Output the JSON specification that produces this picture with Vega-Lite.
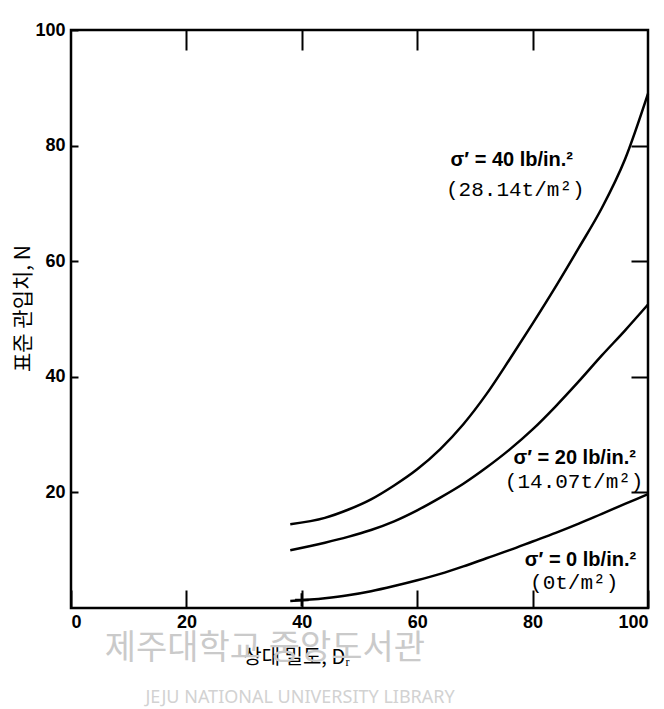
{
  "$schema": "https://vega.github.io/schema/vega-lite/v6.json",
  "width": 577,
  "height": 578,
  "autosize": "none",
  "padding": {"left": 71, "top": 30, "right": 16, "bottom": 101},
  "background": "white",
  "config": {
    "view": {"stroke": "black", "strokeWidth": 2.5},
    "axis": {
      "grid": false,
      "domain": false,
      "tickColor": "black",
      "tickWidth": 2,
      "labelColor": "black",
      "labelFont": "Liberation Sans",
      "labelFontWeight": "bold",
      "labelFontSize": 18,
      "titleFont": "Noto Sans CJK KR",
      "titleFontWeight": "normal",
      "titleFontSize": 20,
      "titleColor": "black"
    }
  },
  "datasets": {
    "curves": [
      {"series": "40", "D": 38, "N": 14.5},
      {"series": "40", "D": 44, "N": 15.6},
      {"series": "40", "D": 48, "N": 17},
      {"series": "40", "D": 52, "N": 18.8},
      {"series": "40", "D": 56, "N": 21.2},
      {"series": "40", "D": 60, "N": 24},
      {"series": "40", "D": 64, "N": 27.5},
      {"series": "40", "D": 68, "N": 31.8},
      {"series": "40", "D": 72, "N": 37},
      {"series": "40", "D": 76, "N": 43},
      {"series": "40", "D": 80, "N": 49.2},
      {"series": "40", "D": 84, "N": 55.6},
      {"series": "40", "D": 88, "N": 62.3},
      {"series": "40", "D": 92, "N": 69.2},
      {"series": "40", "D": 96, "N": 77.6},
      {"series": "40", "D": 100, "N": 89},
      {"series": "20", "D": 38, "N": 10},
      {"series": "20", "D": 44, "N": 11.3},
      {"series": "20", "D": 48, "N": 12.3},
      {"series": "20", "D": 52, "N": 13.5},
      {"series": "20", "D": 56, "N": 15},
      {"series": "20", "D": 60, "N": 16.9},
      {"series": "20", "D": 64, "N": 19.1},
      {"series": "20", "D": 68, "N": 21.5},
      {"series": "20", "D": 72, "N": 24.3},
      {"series": "20", "D": 76, "N": 27.4},
      {"series": "20", "D": 80, "N": 30.9},
      {"series": "20", "D": 84, "N": 34.9},
      {"series": "20", "D": 88, "N": 39.2},
      {"series": "20", "D": 92, "N": 43.7},
      {"series": "20", "D": 96, "N": 48},
      {"series": "20", "D": 100, "N": 52.5},
      {"series": "0", "D": 38, "N": 1.2},
      {"series": "0", "D": 44, "N": 1.7},
      {"series": "0", "D": 48, "N": 2.2},
      {"series": "0", "D": 52, "N": 2.9},
      {"series": "0", "D": 56, "N": 3.8},
      {"series": "0", "D": 60, "N": 4.8},
      {"series": "0", "D": 64, "N": 5.9},
      {"series": "0", "D": 68, "N": 7.2},
      {"series": "0", "D": 72, "N": 8.6},
      {"series": "0", "D": 76, "N": 10},
      {"series": "0", "D": 80, "N": 11.5},
      {"series": "0", "D": 84, "N": 13},
      {"series": "0", "D": 88, "N": 14.6},
      {"series": "0", "D": 92, "N": 16.3},
      {"series": "0", "D": 96, "N": 18},
      {"series": "0", "D": 100, "N": 19.7}
    ],
    "marker": [{"D": 40, "N": 1.4}],
    "labels": [
      {"kind": "main", "D": 76.4, "N": 77.5, "text": "σ′ = 40 lb/in.²"},
      {"kind": "sub", "D": 77, "N": 72.3, "text": "(28.14t/m²)"},
      {"kind": "main", "D": 87.3, "N": 25.9, "text": "σ′ = 20 lb/in.²"},
      {"kind": "sub", "D": 87.2, "N": 21.8, "text": "(14.07t/m²)"},
      {"kind": "main", "D": 88.3, "N": 8.3, "text": "σ′ = 0 lb/in.²"},
      {"kind": "sub", "D": 87.2, "N": 4.3, "text": "(0t/m²)"}
    ],
    "watermark": [
      {"kind": "ko", "D": 33.6, "N": -7.1, "text": "제주대학교 중앙도서관"},
      {"kind": "en", "D": 39.7, "N": -15.6, "text": "JEJU NATIONAL UNIVERSITY LIBRARY"}
    ]
  },
  "resolve": {"axis": {"x": "independent", "y": "independent"}},
  "layer": [
    {
      "data": {"name": "watermark"},
      "transform": [{"filter": "datum.kind === 'ko'"}],
      "mark": {"type": "text", "font": "Noto Sans CJK KR", "fontSize": 34, "color": "#cacaca", "align": "center", "baseline": "middle"},
      "encoding": {
        "x": {"field": "D", "type": "quantitative", "scale": {"domain": [0, 100], "nice": false}, "axis": null},
        "y": {"field": "N", "type": "quantitative", "scale": {"domain": [0, 100], "nice": false}, "axis": null},
        "text": {"field": "text"}
      }
    },
    {
      "data": {"name": "watermark"},
      "transform": [{"filter": "datum.kind === 'en'"}],
      "mark": {"type": "text", "font": "Noto Sans", "fontSize": 18, "color": "#d2d2d2", "align": "center", "baseline": "middle"},
      "encoding": {
        "x": {"field": "D", "type": "quantitative", "scale": {"domain": [0, 100], "nice": false}, "axis": null},
        "y": {"field": "N", "type": "quantitative", "scale": {"domain": [0, 100], "nice": false}, "axis": null},
        "text": {"field": "text"}
      }
    },
    {
      "data": {"name": "curves"},
      "mark": {"type": "line", "interpolate": "monotone", "color": "black", "strokeWidth": 2.5},
      "encoding": {
        "x": {
          "field": "D", "type": "quantitative",
          "scale": {"domain": [0, 100], "nice": false},
          "axis": {
            "orient": "bottom", "values": [0, 20, 40, 60, 80, 100],
            "ticks": true, "tickSize": -18, "labelPadding": 23,
            "title": "상대 밀도, Dᵣ", "titleX": 225, "titleY": 49,
            "titleAlign": "center", "titleBaseline": "middle"
          }
        },
        "y": {
          "field": "N", "type": "quantitative",
          "scale": {"domain": [0, 100], "nice": false},
          "axis": {
            "orient": "left", "values": [20, 40, 60, 80, 100],
            "ticks": true, "tickSize": -7, "labelPadding": 13,
            "title": "표준 관입치,  N", "titleFontSize": 21, "titleX": -48, "titleY": 278,
            "titleAngle": -90, "titleAlign": "center", "titleBaseline": "middle"
          }
        },
        "detail": {"field": "series"}
      }
    },
    {
      "data": {"name": "marker"},
      "mark": {"type": "point", "shape": "M-1,0H1M0,-1V1", "filled": false, "color": "black", "strokeWidth": 2.5, "size": 180, "opacity": 1},
      "encoding": {
        "x": {"field": "D", "type": "quantitative", "scale": {"domain": [0, 100], "nice": false}, "axis": null},
        "y": {"field": "N", "type": "quantitative", "scale": {"domain": [0, 100], "nice": false}, "axis": null}
      }
    },
    {
      "data": {"name": "labels"},
      "transform": [{"filter": "datum.kind === 'main'"}],
      "mark": {"type": "text", "font": "Liberation Sans", "fontWeight": "bold", "fontSize": 20, "color": "black", "align": "center", "baseline": "middle"},
      "encoding": {
        "x": {
          "field": "D", "type": "quantitative",
          "scale": {"domain": [0, 100], "nice": false},
          "axis": {"orient": "bottom", "offset": -578, "values": [20, 40, 60, 80], "labels": false, "title": null, "tickSize": 20}
        },
        "y": {
          "field": "N", "type": "quantitative",
          "scale": {"domain": [0, 100], "nice": false},
          "axis": {"orient": "left", "offset": -577, "values": [20, 40, 60, 80], "labels": false, "title": null, "tickSize": 17}
        },
        "text": {"field": "text"}
      }
    },
    {
      "data": {"name": "labels"},
      "transform": [{"filter": "datum.kind === 'sub'"}],
      "mark": {"type": "text", "font": "Liberation Mono", "fontSize": 21, "color": "black", "align": "center", "baseline": "middle"},
      "encoding": {
        "x": {"field": "D", "type": "quantitative", "scale": {"domain": [0, 100], "nice": false}, "axis": null},
        "y": {"field": "N", "type": "quantitative", "scale": {"domain": [0, 100], "nice": false}, "axis": null},
        "text": {"field": "text"}
      }
    }
  ]
}
